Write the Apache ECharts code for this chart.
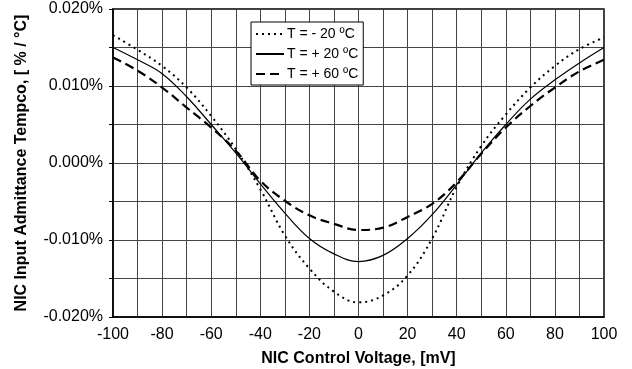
<!DOCTYPE html>
<html>
<head>
<meta charset="utf-8">
<script src="https://cdn.jsdelivr.net/npm/echarts@6/dist/echarts.min.js"></script>
<style>
  html, body { margin: 0; padding: 0; background: #fff; }
  #chart1 { width: 632px; height: 369px; }
</style>
</head>
<body>
<div id="chart1"></div>
<script>
// control voltage, mV
var voltage = [-100, -90, -80, -70, -60, -50, -40, -30, -20, -10, 0, 10, 20, 30, 40, 50, 60, 70, 80, 90, 100];
// tempco in %/degC
var tMinus20 = [0.0166, 0.0147, 0.0126, 0.0098, 0.0061, 0.0018, -0.0034, -0.0094, -0.0137, -0.0167, -0.0181, -0.0172, -0.0146, -0.0098, -0.0031, 0.0022, 0.0063, 0.0098, 0.0126, 0.0148, 0.0163];
var tPlus20 = [0.0150, 0.0134, 0.0116, 0.0086, 0.0050, 0.0013, -0.0027, -0.0065, -0.0098, -0.0118, -0.0128, -0.0120, -0.0098, -0.0067, -0.0028, 0.0013, 0.0050, 0.0083, 0.0108, 0.0130, 0.0150];
var tPlus60 = [0.0137, 0.0120, 0.0098, 0.0072, 0.0046, 0.0016, -0.0023, -0.0049, -0.0068, -0.0079, -0.0087, -0.0084, -0.0070, -0.0053, -0.0025, 0.0012, 0.0046, 0.0074, 0.0098, 0.0119, 0.0134];
var seriesNames = ['T = - 20 ºC', 'T = + 20 ºC', 'T = + 60 ºC'];

function pairs(ys) {
    return voltage.map(function (x, i) { return [x, ys[i]]; });
}

var myChart = echarts.init(document.getElementById('chart1'));

var txt = 'Liberation Sans, Arial, sans-serif';

option = {
    animation: false,
    backgroundColor: '#fff',
    textStyle: { fontFamily: txt },
    legend: {
        data: seriesNames,
        orient: 'vertical',
        left: 251,
        top: 22,
        padding: [5, 5, 4, 4],
        itemWidth: 28,
        itemHeight: 12,
        itemGap: 6,
        backgroundColor: '#fff',
        borderColor: '#000',
        borderWidth: 1,
        // hide the marker dot, keep the line sample
        itemStyle: { opacity: 0 },
        textStyle: { fontSize: 14, color: '#000', fontFamily: txt, padding: [0, 0, 0, -2] }
    },
    grid: {
        left: 113,
        right: 28,
        top: 9,
        bottom: 52,
        outerBoundsMode: 'none',
        show: true,
        borderColor: '#000',
        borderWidth: 1.5
    },
    xAxis: {
        type: 'value',
        min: -100,
        max: 100,
        interval: 10,
        name: 'NIC Control Voltage, [mV]',
        nameLocation: 'middle',
        nameGap: 34,
        nameTextStyle: { fontSize: 16, fontWeight: 'bold', color: '#000', fontFamily: txt },
        axisLine: { onZero: false, lineStyle: { color: '#000', width: 1.5 } },
        axisTick: { show: false },
        axisLabel: {
            fontSize: 16,
            color: '#000',
            margin: 10,
            formatter: function (v) { return v % 20 === 0 ? String(v) : ''; }
        },
        splitLine: { lineStyle: { color: '#444', width: 1 } }
    },
    yAxis: {
        type: 'value',
        min: -0.02,
        max: 0.02,
        interval: 0.005,
        name: 'NIC Input Admittance Tempco, [ % / °C]',
        nameLocation: 'middle',
        nameGap: 83,
        nameTextStyle: { fontSize: 16, fontWeight: 'bold', color: '#000', fontFamily: txt },
        axisLine: { onZero: false, lineStyle: { color: '#000', width: 1.5 } },
        axisTick: { show: true, length: 4, lineStyle: { color: '#000' } },
        axisLabel: {
            fontSize: 16,
            color: '#000',
            margin: 10,
            formatter: function (v) {
                var m = Math.round(v * 1000);
                return m % 10 === 0 ? (v).toFixed(3) + '%' : '';
            }
        },
        splitLine: { lineStyle: { color: '#444', width: 1 } }
    },
    series: [{
            name: seriesNames[0],
            type: 'line',
            smooth: 0.4,
            symbol: 'none',
            lineStyle: { color: '#000', width: 2, type: [2, 4] },
            itemStyle: { color: '#000' },
            data: pairs(tMinus20)
        },
        {
            name: seriesNames[1],
            type: 'line',
            smooth: 0.4,
            symbol: 'none',
            lineStyle: { color: '#000', width: 1.2 },
            itemStyle: { color: '#000' },
            data: pairs(tPlus20)
        },
        {
            name: seriesNames[2],
            type: 'line',
            smooth: 0.4,
            symbol: 'none',
            lineStyle: { color: '#000', width: 2.2, type: [9, 5] },
            itemStyle: { color: '#000' },
            data: pairs(tPlus60)
        }
    ]
};
myChart.setOption(option);
window.onresize = myChart.resize;
</script>
</body>
</html>
